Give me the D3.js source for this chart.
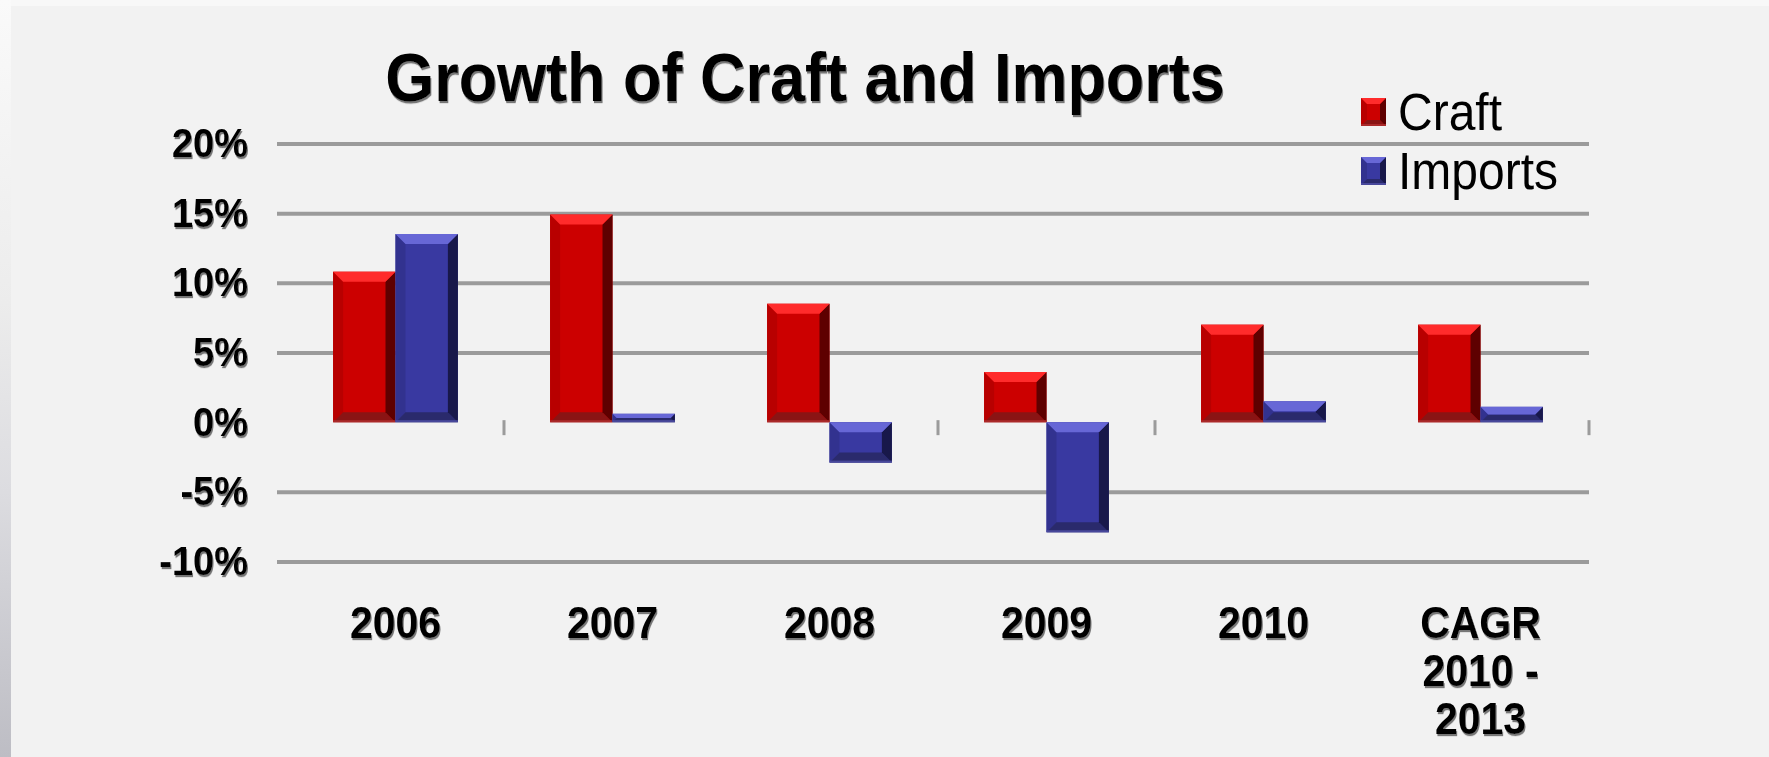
<!DOCTYPE html>
<html lang="en">
<head>
    <meta charset="UTF-8">
    <script src="https://d3js.org/d3.v7.min.js"></script>
    <style>
        html, body { margin: 0; padding: 0; background: #f2f2f2; }
        svg { display: block; font-family: "Liberation Sans", Arial, sans-serif; }
    </style>
</head>
<body>
    <svg id="chart" width="1769" height="757"></svg>

    <script>
        // chart data
        const categories = ["2006", "2007", "2008", "2009", "2010", "CAGR 2010 - 2013"];
        const tickLabels = [["2006"], ["2007"], ["2008"], ["2009"], ["2010"], ["CAGR", "2010 -", "2013"]];
        const seriesNames = ["Craft", "Imports"];
        const craft = [10.8, 14.9, 8.5, 3.6, 7.0, 7.0];
        const imports = [13.5, 0.6, -2.9, -7.9, 1.5, 1.1];
        const yTicks = [-10, -5, 0, 5, 10, 15, 20];
        const tickAfter = ["2006", "2008", "2009", "CAGR 2010 - 2013"];

        const palette = {
            Craft:   { base: "#cc0000", top: "#ff2b2b", right: "#5e0000", bottom: "#8a1414", left: "#b80000", edge: "#b23030" },
            Imports: { base: "#3939a1", top: "#6767d6", right: "#18184a", bottom: "#2a2a6c", left: "#32328f", edge: "#5050a8" }
        };

        const svg = d3.select("#chart");
        const defs = svg.append("defs");

        const grad = defs.append("linearGradient").attr("id", "leftStrip")
            .attr("x1", 0).attr("y1", 0).attr("x2", 0).attr("y2", 1);
        grad.append("stop").attr("offset", "0%").attr("stop-color", "#fafafa");
        grad.append("stop").attr("offset", "40%").attr("stop-color", "#ececec");
        grad.append("stop").attr("offset", "65%").attr("stop-color", "#dcdce0");
        grad.append("stop").attr("offset", "100%").attr("stop-color", "#bdbdc4");

        const shadow = defs.append("filter").attr("id", "txtShadow")
            .attr("x", "-10%").attr("y", "-10%").attr("width", "130%").attr("height", "140%");
        shadow.append("feDropShadow").attr("dx", 1).attr("dy", 2)
            .attr("stdDeviation", 0.6).attr("flood-color", "#6a6a6a").attr("flood-opacity", 0.9);

        // background
        svg.append("rect").attr("width", 1769).attr("height", 757).attr("fill", "#f2f2f2");
        svg.append("rect").attr("width", 1769).attr("height", 6).attr("fill", "#f8f8f8");
        svg.append("rect").attr("width", 11).attr("height", 757).attr("fill", "url(#leftStrip)");

        const x0 = d3.scaleBand().domain(categories).range([287, 1589]);
        const groupW = x0.bandwidth() * 0.575;
        const groupOff = (x0.bandwidth() - groupW) / 2;
        const x1 = d3.scaleBand().domain(seriesNames).range([0, groupW]);
        const y = d3.scaleLinear().domain([-10, 20]).range([561.5, 143.5]);

        // y axis with gridlines
        const yAxis = svg.append("g")
            .attr("transform", "translate(277,0)")
            .call(d3.axisLeft(y).tickValues(yTicks).tickSize(-(1589 - 277)).tickPadding(29)
                .tickFormat(d => d + "%"));
        yAxis.select(".domain").remove();
        yAxis.selectAll(".tick line")
            .attr("stroke", "#9b9b9b").attr("stroke-width", 4)
            .attr("display", d => d === 0 ? "none" : null);
        yAxis.selectAll(".tick text")
            .attr("fill", "#000").attr("font-size", 38).attr("font-weight", "bold")
            .attr("transform", "scale(1,1.08)")
            .attr("filter", "url(#txtShadow)");

        // category tick marks under zero
        svg.selectAll(".cattick")
            .data(tickAfter)
            .enter().append("line")
            .attr("class", "cattick")
            .attr("x1", d => x0(d) + x0.bandwidth())
            .attr("x2", d => x0(d) + x0.bandwidth())
            .attr("y1", y(0) - 2).attr("y2", y(0) + 13)
            .attr("stroke", "#9b9b9b").attr("stroke-width", 3);

        // bevelled bar drawing
        function bevelBar(g, bx, by, bw, bh, col, maxB) {
            const b = Math.max(1, Math.min(maxB, bh / 2, bw / 2));
            const r = bx + bw, btm = by + bh;
            g.append("rect").attr("x", bx).attr("y", by).attr("width", bw).attr("height", bh).attr("fill", col.base);
            g.append("polygon").attr("fill", col.left)
                .attr("points", [[bx, by], [bx + b, by + b], [bx + b, btm - b], [bx, btm]].join(" "));
            g.append("polygon").attr("fill", col.bottom)
                .attr("points", [[bx, btm], [bx + b, btm - b], [r - b, btm - b], [r, btm]].join(" "));
            g.append("polygon").attr("fill", col.right)
                .attr("points", [[r, by], [r - b, by + b], [r - b, btm - b], [r, btm]].join(" "));
            g.append("polygon").attr("fill", col.top)
                .attr("points", [[bx, by], [r, by], [r - b, by + b], [bx + b, by + b]].join(" "));
            g.append("rect").attr("x", bx).attr("y", btm - 2).attr("width", bw).attr("height", 2)
                .attr("fill", col.edge).attr("opacity", 0.8);
        }

        const rows = categories.map((c, i) => ({ cat: c, Craft: craft[i], Imports: imports[i] }));
        const bars = svg.append("g");
        rows.forEach(row => {
            seriesNames.forEach(s => {
                const v = row[s];
                const top = y(Math.max(0, v)), bot = y(Math.min(0, v));
                bevelBar(bars.append("g"), x0(row.cat) + groupOff + x1(s), top,
                    x1.bandwidth(), bot - top, palette[s], 10);
            });
        });

        // x axis labels
        const xAxis = svg.append("g")
            .attr("transform", "translate(0,600)")
            .call(d3.axisBottom(x0).tickSize(0).tickPadding(0));
        xAxis.select(".domain").remove();
        xAxis.selectAll(".tick text").each(function (d, i) {
            const t = d3.select(this).text(null)
                .attr("fill", "#000").attr("font-size", 41).attr("font-weight", "bold")
                .attr("y", 0).attr("dy", null)
                .attr("transform", "scale(1,1.08)")
                .attr("filter", "url(#txtShadow)");
            tickLabels[i].forEach((line, k) => {
                t.append("tspan").attr("x", 0).attr("y", 35 + k * 44.5).text(line);
            });
        });

        // title
        svg.append("text")
            .attr("transform", "translate(805,101) scale(1,1.08)")
            .attr("text-anchor", "middle")
            .attr("font-size", 63).attr("font-weight", "bold").attr("fill", "#000")
            .attr("filter", "url(#txtShadow)")
            .text("Growth of Craft and Imports");

        // legend
        const legend = svg.append("g");
        seriesNames.forEach((s, i) => {
            const ly = 98 + i * 59;
            bevelBar(legend.append("g"), 1361, ly, 25, 28, palette[s], 6);
            legend.append("text")
                .attr("transform", `translate(1398,${ly + 32}) scale(1,1.08)`)
                .attr("font-size", 48).attr("fill", "#000")
                .text(s);
        });
    </script>
</body>
</html>
